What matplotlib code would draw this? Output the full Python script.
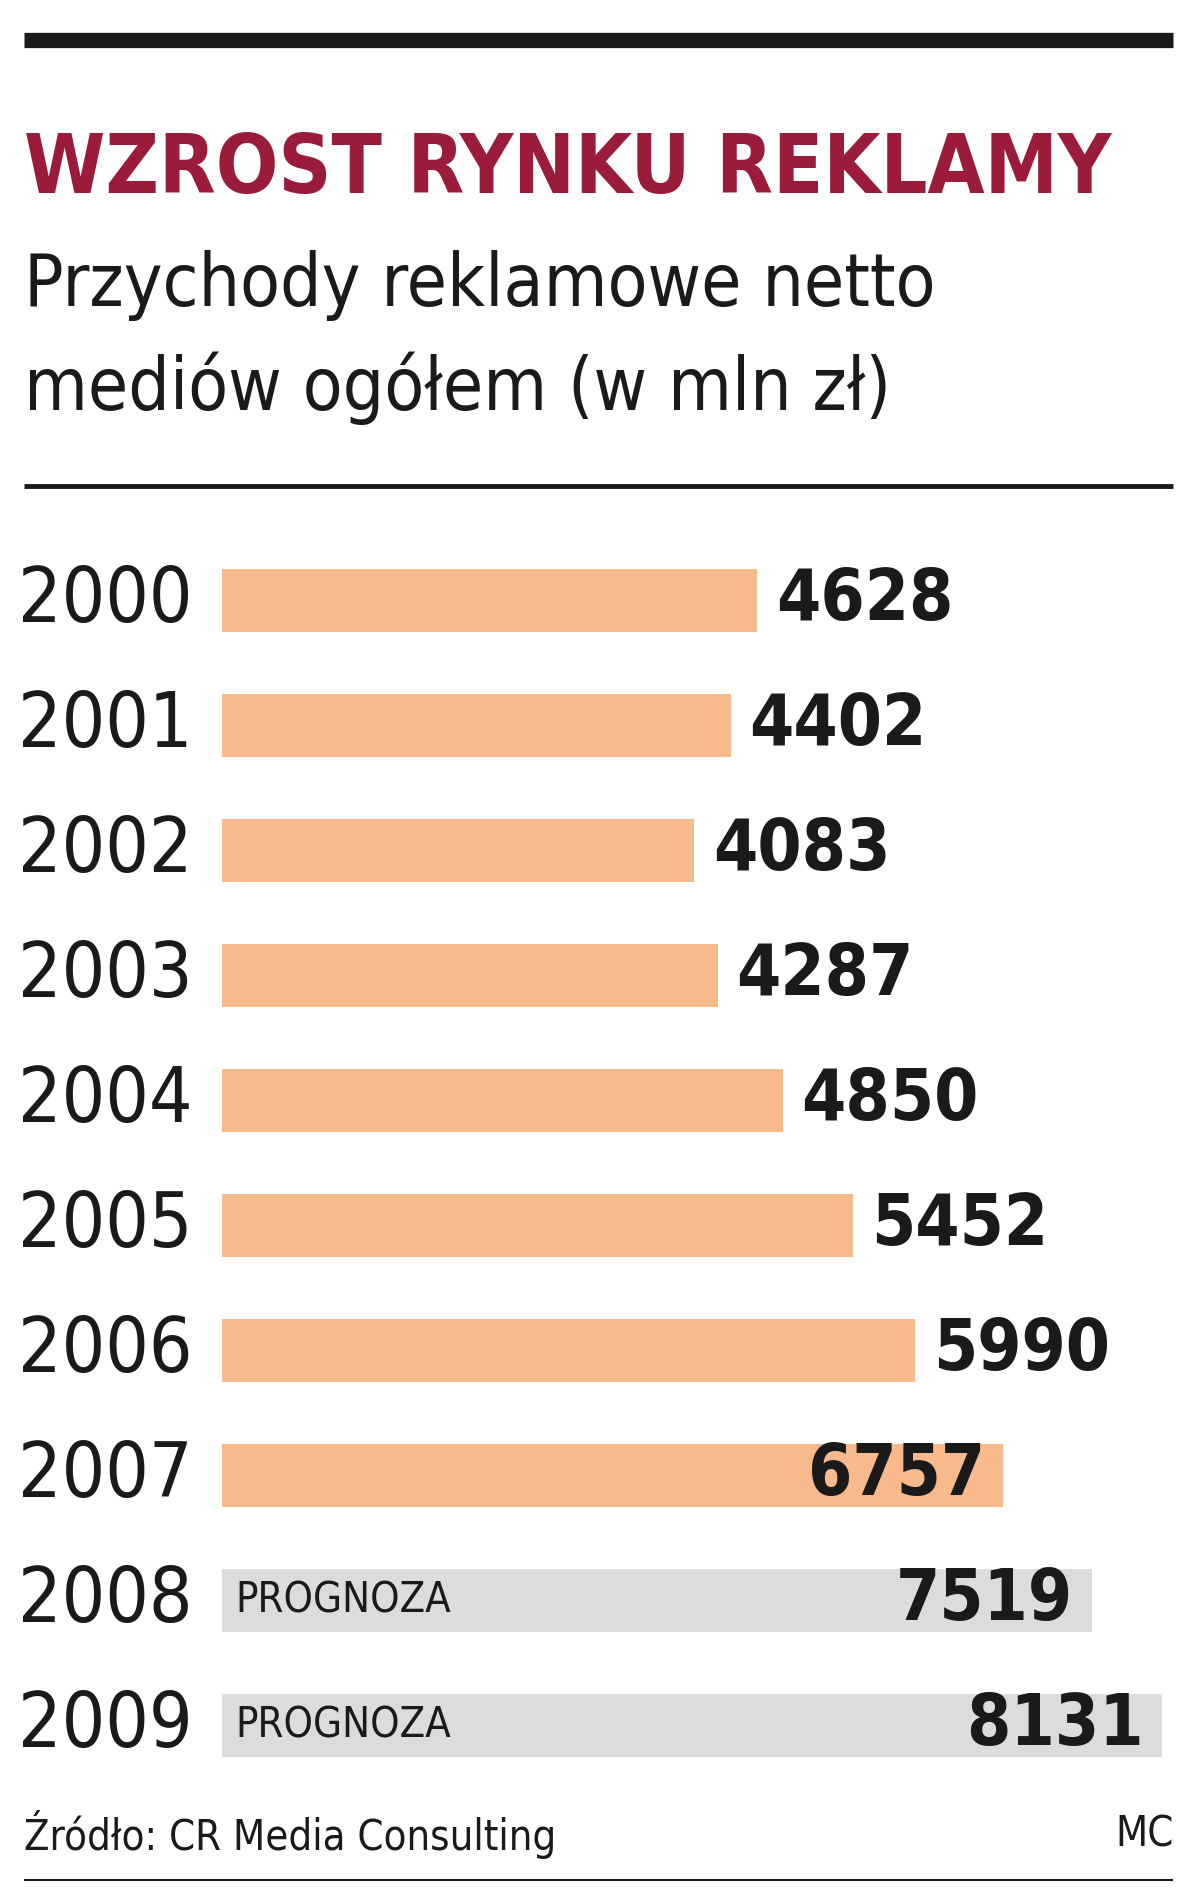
import matplotlib.pyplot as plt

# Dane
lata = ['2000', '2001', '2002', '2003', '2004', '2005', '2006', '2007', '2008', '2009']
przychody = [4628, 4402, 4083, 4287, 4850, 5452, 5990, 6757, 7519, 8131]
prognoza = [False] * 8 + [True, True]

plt.rcParams['font.family'] = ['DejaVu Sans']
plt.rcParams['font.stretch'] = 'condensed'

W, H = 990, 1560  # uklad w pikselach referencji
fig = plt.figure(figsize=(12, 18.95), dpi=100)
bg = fig.add_axes([0, 0, 1, 1])
bg.set_xlim(0, W)
bg.set_ylim(H, 0)
bg.axis('off')

# Linie i naglowki
bg.plot([20, 968], [33, 33], color='#1a1a1a', lw=11, solid_capstyle='butt')
bg.plot([20, 968], [400, 400], color='#1a1a1a', lw=3.5, solid_capstyle='butt')
bg.plot([20, 968], [1548, 1548], color='#1a1a1a', lw=1.5, solid_capstyle='butt')
bg.text(20, 140, 'WZROST RYNKU REKLAMY', fontsize=59, fontweight='bold',
        color='#9b1b3a', va='center', ha='left')
bg.text(20, 235, 'Przychody reklamowe netto', fontsize=52.5, color='#1a1a1a',
        va='center', ha='left')
bg.text(20, 320, 'mediów ogółem (w mln zł)', fontsize=52.5, color='#1a1a1a',
        va='center', ha='left')
bg.text(20, 1510, 'Źródło: CR Media Consulting', fontsize=30, color='#1a1a1a',
        va='center', ha='left')
bg.text(968, 1510, 'MC', fontsize=30, color='#1a1a1a', va='center', ha='right')

# Wykres slupkowy
x0, x1, y0, y1 = 183, 959, 443, 1472
ax = fig.add_axes([x0 / W, 1 - y1 / H, (x1 - x0) / W, (y1 - y0) / H])
ax.set_xlim(0, max(przychody))
ax.set_ylim(len(lata) - 0.5, -0.5)
ax.axis('off')

kolory = ['#dcdcdc' if p else '#f8b98c' for p in prognoza]
ax.barh(range(len(lata)), przychody, height=0.5, color=kolory)

for i, (rok, v, p) in enumerate(zip(lata, przychody, prognoza)):
    ax.text(-250, i, rok, fontsize=55, color='#1a1a1a', ha='right', va='center')
    if p or i == 7:
        ax.text(v - 160, i, str(v), fontsize=51, fontweight='bold',
                color='#1a1a1a', ha='right', va='center')
    else:
        ax.text(v + 160, i, str(v), fontsize=51, fontweight='bold',
                color='#1a1a1a', ha='left', va='center')
    if p:
        ax.text(120, i, 'PROGNOZA', fontsize=30, color='#1a1a1a',
                ha='left', va='center')

fig.savefig('out.png', dpi=100)
